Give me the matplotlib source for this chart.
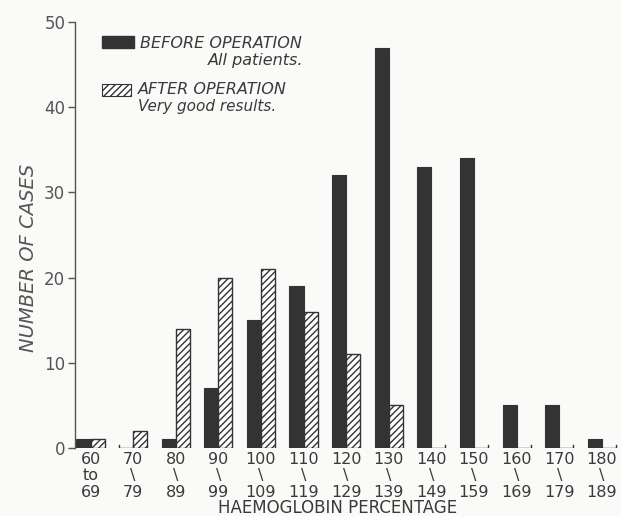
import matplotlib
matplotlib.use("Agg")
import matplotlib.pyplot as plt
from matplotlib.patches import Rectangle
import numpy as np

categories = ["60\nto\n69", "70\n\\\n79", "80\n\\\n89", "90\n\\\n99", "100\n\\\n109",
              "110\n\\\n119", "120\n\\\n129", "130\n\\\n139", "140\n\\\n149",
              "150\n\\\n159", "160\n\\\n169", "170\n\\\n179", "180\n\\\n189"]
before = [1, 0, 1, 7, 15, 19, 32, 47, 33, 34, 5, 5, 1]
after = [1, 2, 14, 20, 21, 16, 11, 5, 0, 0, 0, 0, 0]
yticks = [0, 10, 20, 30, 40, 50]

W, H = 621, 516
bg = "#fafaf8"
dark = "#333333"
txt = "#3a3a3a"

fig = plt.figure(figsize=(W / 100, H / 100), dpi=100, facecolor=bg)
ax = fig.add_axes([75 / W, 1 - 448 / H, 1 - 75 / W, (448 - 22) / H])
ax.set_facecolor(bg)

x = np.arange(len(categories))
w = 0.33
plt.rcParams["hatch.linewidth"] = 1.0

for xi, v in zip(x, before):
    if v > 0:
        ax.bar(xi - w / 2, v, w, color=dark, edgecolor=dark, linewidth=0.8)
    else:
        ax.plot([xi - w, xi - w, xi, xi], [0.35, 0, 0, 0.35], color=dark, lw=1.0)
for xi, v in zip(x, after):
    if v > 0:
        ax.bar(xi + w / 2, v, w, facecolor="white", edgecolor=dark, hatch="/////",
               linewidth=1.0)
    else:
        ax.plot([xi, xi, xi + w, xi + w], [0, 0, 0, 0.35], color=dark, lw=1.0)

ax.set_xlim(-0.364, 12.45)
ax.set_ylim(0, 50)
for s in ["top", "right", "bottom"]:
    ax.spines[s].set_visible(False)
ax.spines["left"].set_color("#555555")
ax.spines["left"].set_linewidth(1.0)

ax.set_yticks(yticks)
ax.set_yticklabels([str(t) for t in yticks], fontsize=12, color="#555555")
ax.tick_params(axis="y", direction="out", length=5, width=1, color="#555555", pad=2)
ax.set_xticks(x)
ax.set_xticklabels(categories, fontsize=11.5, color=txt, linespacing=1.1)
ax.tick_params(axis="x", length=0, pad=3)

fig.text(338 / W, 1 - 508 / H, "HAEMOGLOBIN PERCENTAGE", ha="center", va="center",
         fontsize=12, color=txt)
fig.text(29 / W, 1 - 258 / H, "NUMBER OF CASES", ha="center", va="center",
         rotation=90, fontsize=14, style="italic", color="#555555")

# legend
fig.patches.append(Rectangle((102 / W, 1 - 48 / H), 32 / W, 12 / H, transform=fig.transFigure,
                             facecolor=dark, edgecolor=dark, figure=fig))
fig.patches.append(Rectangle((102 / W, 1 - 96 / H), 29 / W, 12 / H, transform=fig.transFigure,
                             facecolor="white", edgecolor=dark, hatch="/////", lw=0.8, figure=fig))
fig.text(140 / W, 1 - 43 / H, "BEFORE OPERATION", ha="left", va="center",
         fontsize=11.5, style="italic", color=txt)
fig.text(303 / W, 1 - 60 / H, "All patients.", ha="right", va="center",
         fontsize=11.5, style="italic", color=txt)
fig.text(138 / W, 1 - 89 / H, "AFTER OPERATION", ha="left", va="center",
         fontsize=11.5, style="italic", color=txt)
fig.text(138 / W, 1 - 106 / H, "Very good results.", ha="left", va="center",
         fontsize=11, style="italic", color=txt)

fig.savefig("out.png", dpi=100, facecolor=bg)
